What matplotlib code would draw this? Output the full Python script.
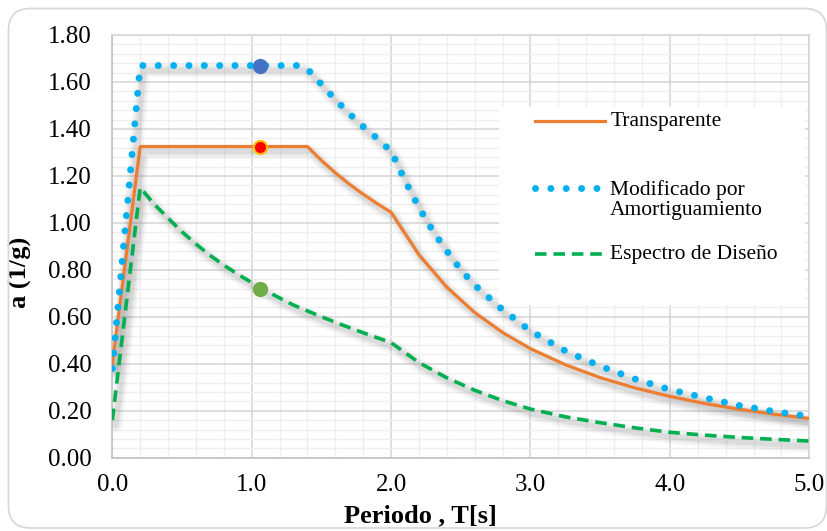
import numpy as np
import matplotlib
matplotlib.use('Agg')
import matplotlib.pyplot as plt
from matplotlib.lines import Line2D
from matplotlib.patches import FancyBboxPatch, Rectangle
from matplotlib import transforms

# Data
t_trans = [0.0, 0.2, 1.4, 1.5, 1.6, 1.7, 1.8, 1.9, 2.0, 2.2, 2.4, 2.6, 2.8, 3.0,
           3.25, 3.5, 3.75, 4.0, 4.25, 4.5, 4.75, 5.0]
a_trans = [0.40, 1.325, 1.325, 1.266, 1.213, 1.165, 1.122, 1.082, 1.045, 0.864, 0.726,
           0.618, 0.533, 0.464, 0.396, 0.341, 0.297, 0.261, 0.231, 0.206, 0.185, 0.167]

t_mod = [0.0, 0.2, 1.35, 1.4, 1.5, 1.6, 1.7, 1.8, 1.9, 2.0, 2.1, 2.2, 2.3, 2.4, 2.5,
         2.6, 2.8, 3.0, 3.25, 3.5, 3.75, 4.0, 4.25, 4.5, 4.75, 5.0]
a_mod = [0.38, 1.67, 1.67, 1.655, 1.59, 1.525, 1.465, 1.41, 1.36, 1.305, 1.18, 1.065,
         0.965, 0.88, 0.80, 0.735, 0.63, 0.54, 0.455, 0.39, 0.335, 0.29, 0.255, 0.222,
         0.197, 0.176]

t_dis = [0.0, 0.2, 0.3, 0.4, 0.5, 0.6, 0.7, 0.8, 0.9, 1.0, 1.1, 1.2, 1.3, 1.4, 1.5,
         1.6, 1.7, 1.8, 1.9, 2.0, 2.2, 2.4, 2.6, 2.8, 3.0, 3.25, 3.5, 3.75, 4.0, 4.25,
         4.5, 4.75, 5.0]
a_dis = [0.16, 1.15, 1.08, 1.02, 0.962, 0.91, 0.862, 0.82, 0.781, 0.746, 0.712, 0.68,
         0.65, 0.625, 0.6, 0.577, 0.554, 0.532, 0.511, 0.49, 0.405, 0.34, 0.287, 0.243,
         0.207, 0.174, 0.149, 0.127, 0.108, 0.096, 0.086, 0.078, 0.071]

t_point = 1.06
p_mod, p_trans, p_dis = 1.67, 1.325, 0.72

labels = ['Transparente', 'Modificado por\nAmortiguamiento', 'Espectro de Diseño']
c_orange, c_blue, c_green = '#ED7D31', '#00B0F0', '#00B050'

plt.rcParams['font.family'] = ['Liberation Serif', 'DejaVu Serif']

fig = plt.figure(figsize=(8.28, 5.31), dpi=100)
ax = fig.add_axes([112.3 / 828, 1 - 457.7 / 531, 697 / 828, 422.7 / 531])

# rounded outer border
fig.add_artist(FancyBboxPatch((8.5, 3), 818, 519.5, boxstyle='round,pad=0,rounding_size=22',
                              transform=None, fc='none', ec='#D9D9D9', lw=1.3))

# blurred shadow under each line
shadow = transforms.offset_copy(ax.transData, fig=fig, x=2.5, y=-3.5, units='points')
for t, a in [(t_trans, a_trans), (t_mod, a_mod), (t_dis, a_dis)]:
    for lw, al in [(10, 0.06), (7, 0.09), (4, 0.14)]:
        ax.plot(t, a, color='#7F7F7F', lw=lw, alpha=al, transform=shadow,
                solid_capstyle='round', solid_joinstyle='round', zorder=2)

dots = (0, (0.01, 2.2))
ax.plot(t_trans, a_trans, color=c_orange, lw=2.3, zorder=4)
ax.plot(t_mod, a_mod, color=c_blue, lw=5, linestyle=dots, dash_capstyle='round', zorder=4)
ax.plot(t_dis, a_dis, color=c_green, lw=2.6, linestyle=(0, (3.2, 1.9)), zorder=4)

ax.plot([t_point], [p_mod], 'o', ms=10, color='#4472C4', zorder=5)
ax.plot([t_point], [p_trans], 'o', ms=9.5, mfc='#FF0000', mec='#FFC000', mew=1.5, zorder=5)
ax.plot([t_point], [p_dis], 'o', ms=10, color='#70AD47', zorder=5)

ax.set_xlim(0, 5)
ax.set_ylim(0, 1.8)
ax.set_xticks(np.arange(0, 5.01, 1.0))
ax.set_xticks(np.arange(0, 5.01, 0.2), minor=True)
ax.set_yticks(np.arange(0, 1.801, 0.2))
ax.set_yticks(np.arange(0, 1.801, 0.04), minor=True)
ax.set_xticklabels(['%.1f' % v for v in np.arange(0, 5.01, 1.0)])
ax.set_yticklabels(['%.2f' % v for v in np.arange(0, 1.801, 0.2)])
ax.grid(which='major', color='#D4D4D4', lw=1.1, zorder=0)
ax.grid(which='minor', color='#EFEFEF', lw=1.0, zorder=0)
ax.set_axisbelow(True)
ax.tick_params(which='both', length=0)
ax.tick_params(axis='y', labelsize=18, pad=15)
ax.tick_params(axis='x', labelsize=18, pad=12)
for s in ax.spines.values():
    s.set_color('#D4D4D4')
    s.set_linewidth(1.1)
ax.spines['left'].set_color('#BFBFBF')
ax.spines['bottom'].set_color('#BFBFBF')

ax.set_xlabel('Periodo , T[s]', fontsize=19, fontweight='bold')
ax.set_ylabel('a (1/g)', fontsize=19, fontweight='bold')
ax.xaxis.set_label_coords((420 - 112.3) / 697, -(504 - 457.7) / 422.7)
ax.yaxis.set_label_coords((32 - 112.3) / 697, (457.7 - 272) / 422.7)

# legend box drawn by hand to keep Excel's layout
ax.add_patch(Rectangle((0.555, 0.3613), 0.4387, 0.4684, transform=ax.transAxes,
                       fc='white', ec='none', zorder=3))
hx = [0.6065, 0.7069]
rows = [0.7964, 0.6378, 0.4816]
ax.add_line(Line2D(hx, [rows[0]] * 2, transform=ax.transAxes, color=c_orange, lw=2.3, zorder=4))
ax.add_line(Line2D([0.6065, 0.6995], [rows[1]] * 2, transform=ax.transAxes, color=c_blue,
                   lw=5, linestyle=dots, dash_capstyle='round', zorder=4))
ax.add_line(Line2D(hx, [rows[2]] * 2, transform=ax.transAxes, color=c_green, lw=2.6,
                   linestyle=(0, (3.2, 1.9)), zorder=4))
ax.text(0.7144, rows[0], labels[0], transform=ax.transAxes, fontsize=15.5, va='center', zorder=4)
ax.text(0.7144, 0.6094, labels[1], transform=ax.transAxes, fontsize=15.5, va='center',
        linespacing=1.1, zorder=4)
ax.text(0.7144, rows[2], labels[2], transform=ax.transAxes, fontsize=15.5, va='center', zorder=4)

fig.savefig('out.png', dpi=100)
